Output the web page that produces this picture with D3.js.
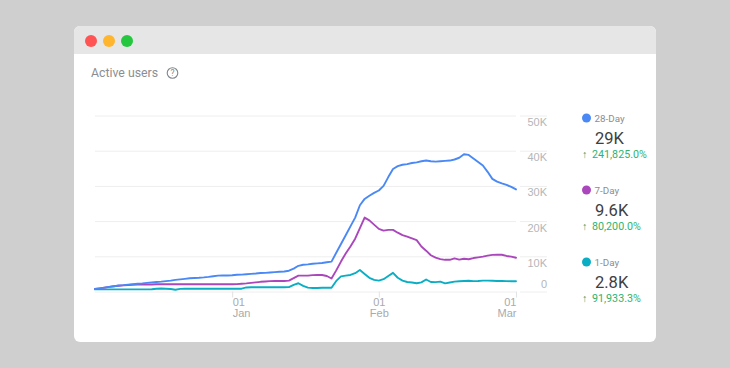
<!DOCTYPE html>
<html>
<head>
<meta charset="utf-8">
<script src="https://d3js.org/d3.v7.min.js"></script>
<style>
  html, body { margin: 0; padding: 0; background: #cfcfcf; }
  svg { display: block; font-family: Roboto, sans-serif; }
  .grid line { stroke: #eeeeee; }
  .grid path, .x.axis path { display: none; }
  .y.axis path, .y.axis line { display: none; }
  .y.axis text { fill: #b4b6b9; font-size: 11px; }
  .x.axis line { stroke: #e2e3e4; }
  .x.axis text { fill: #a8aaad; font-size: 11px; }
  .line { fill: none; stroke-width: 1.9; stroke-linejoin: round; stroke-linecap: round; }
</style>
</head>
<body>
<div id="chart"></div>
<script>
// one value per day, 3 Dec to 1 Mar
var startDate = new Date(Date.UTC(2019, 11, 3));
var endDate = new Date(Date.UTC(2020, 2, 1));

var day28 = [
  700, 900, 1100, 1300, 1500, 1700, 1800, 1950, 2100, 2200,
  2300, 2450, 2600, 2700, 2800, 2950, 3100, 3300, 3450, 3600,
  3750, 3850, 3900, 4000, 4150, 4350, 4500, 4550, 4550, 4600,
  4750, 4800, 4900, 5000, 5100, 5250, 5300, 5400, 5500, 5600,
  5700, 5900, 6500, 7300, 7600, 7700, 7900, 8000, 8100, 8300,
  8500, 11000, 13500, 16000, 18500, 21000, 24500, 26300, 27200, 28000,
  28700, 30000, 32500, 34800, 35600, 36000, 36200, 36500, 36700, 37000,
  37200, 37000, 36900, 37000, 37100, 37200, 37500, 38000, 39000, 38800,
  37800, 36800, 35800, 34000, 32000, 31200, 30700, 30300, 29700, 29000
];
var day7 = [
  700, 900, 1100, 1300, 1500, 1650, 1750, 1850, 1900, 1950,
  2000, 2000, 2000, 2050, 2050, 2050, 2050, 2050, 2050, 2050,
  2050, 2050, 2050, 2050, 2050, 2050, 2050, 2050, 2050, 2050,
  2100, 2200, 2300, 2450, 2600, 2750, 2850, 2950, 3000, 3000,
  3000, 3100, 3800, 4500, 4500, 4500, 4650, 4700, 4700, 4400,
  3700, 6000, 8500, 10800, 12800, 15000, 18000, 21000, 20200, 19000,
  17800, 17300, 17500, 17500, 16700, 16000, 15600, 15100, 14600, 12800,
  11600, 10300, 9600, 9200, 9000, 9000, 9400, 9050, 9300, 9150,
  9500, 9700, 9900, 10200, 10400, 10450, 10450, 10100, 9900, 9600
];
var day1 = [
  600, 600, 600, 600, 600, 600, 600, 600, 600, 600,
  600, 600, 650, 800, 850, 800, 700, 500, 750, 800,
  800, 800, 800, 800, 800, 800, 800, 800, 800, 800,
  800, 800, 1150, 1200, 1200, 1200, 1200, 1200, 1200, 1200,
  1200, 1250, 1900, 2350, 1600, 1100, 1000, 1000, 1050, 1050,
  1050, 3000, 4300, 4500, 4700, 5200, 6100, 5000, 3900, 3300,
  3100, 3500, 4400, 5300, 3900, 3100, 2700, 2550, 2350, 2600,
  3400, 2700, 2650, 2800, 2300, 2550, 2800, 2900, 3000, 3050,
  2950, 3000, 3100, 3100, 3050, 3000, 3000, 2950, 2900, 2900
];

var seriesNames = ["28-Day", "7-Day", "1-Day"];
var seriesTotals = ["29K", "9.6K", "2.8K"];
var seriesChanges = ["241,825.0%", "80,200.0%", "91,933.3%"];
var seriesColors = ["#4a89f5", "#ab47bc", "#0aaec4"];

var yTicks = [0, 10000, 20000, 30000, 40000, 50000];
var xTicks = [new Date(Date.UTC(2020, 0, 1)), new Date(Date.UTC(2020, 1, 1)), new Date(Date.UTC(2020, 2, 1))];
var monthNames = ["Jan", "Feb", "Mar"];

var width = 730;
var height = 368;

var svg = d3.select("#chart").append("svg")
  .attr("width", width)
  .attr("height", height);

// window
svg.append("rect")
  .attr("x", 74).attr("y", 26)
  .attr("width", 582).attr("height", 316)
  .attr("rx", 6)
  .attr("fill", "#fff");

svg.append("path")
  .attr("d", "M74,54V32a6,6 0 0 1 6,-6H650a6,6 0 0 1 6,6V54Z")
  .attr("fill", "#e6e6e6");

svg.selectAll(".btn")
  .data([["#ff5453", 91], ["#ffb52e", 109], ["#25c73f", 127]])
  .enter().append("circle")
  .attr("class", "btn")
  .attr("cx", d => d[1])
  .attr("cy", 41)
  .attr("r", 6)
  .attr("fill", d => d[0]);

// title
svg.append("text")
  .attr("x", 91).attr("y", 77)
  .attr("fill", "#8a8e92")
  .style("font-size", "12.3px")
  .text("Active users");

var help = svg.append("g").attr("transform", "translate(172.5,73)");
help.append("circle").attr("r", 5.3).attr("fill", "none").attr("stroke", "#80868b").attr("stroke-width", 1.1);
help.append("text")
  .attr("text-anchor", "middle").attr("y", 3)
  .attr("fill", "#80868b")
  .style("font-size", "8.5px")
  .text("?");

// scales
var xScale = d3.scaleUtc().domain([startDate, endDate]).range([95, 516]);
var yScale = d3.scaleLinear().domain([0, 50000]).range([291.5, 115.5]);

var dates = d3.utcDay.range(startDate, d3.utcDay.offset(endDate, 1));

// grid, broken in two by the gap before the value labels
[[95, 516], [520, 547]].forEach(function(span) {
  svg.append("g")
    .attr("class", "grid")
    .attr("transform", "translate(" + span[1] + ",0)")
    .call(d3.axisLeft(yScale).tickValues(yTicks).tickSize(span[1] - span[0]).tickFormat(""));
});

// y labels sit under their lines, the zero one above
var yAxis = svg.append("g")
  .attr("class", "y axis")
  .attr("transform", "translate(547,0)")
  .call(d3.axisLeft(yScale).tickValues(yTicks).tickSize(0).tickPadding(0)
    .tickFormat(d => d === 0 ? "0" : d / 1000 + "K"));

yAxis.selectAll("text")
  .attr("dy", d => d === 0 ? "-0.4em" : "0.9em");

// x axis
var xAxis = svg.append("g")
  .attr("class", "x axis")
  .attr("transform", "translate(0,291.5)")
  .call(d3.axisBottom(xScale).tickValues(xTicks).tickSize(6).tickFormat(""));

xAxis.selectAll(".tick text").remove();

var anchors = ["start", "middle", "end"];
xAxis.selectAll(".tick").each(function(d, i) {
  var label = d3.select(this).append("text")
    .attr("text-anchor", anchors[i]);
  label.append("tspan").attr("x", 0).attr("y", 14).text("01");
  label.append("tspan").attr("x", 0).attr("y", 25).text(monthNames[i]);
});

// lines
var line = d3.line()
  .x((d, i) => xScale(dates[i]))
  .y(d => yScale(d));

svg.selectAll(".line")
  .data([day1, day7, day28])
  .enter().append("path")
  .attr("class", "line")
  .attr("stroke", (d, i) => seriesColors[2 - i])
  .attr("d", line);

// legend
var legendY = d3.scalePoint().domain(seriesNames).range([118, 262]);

var legend = svg.selectAll(".legend")
  .data(seriesNames)
  .enter().append("g")
  .attr("class", "legend")
  .attr("transform", d => "translate(0," + legendY(d) + ")");

legend.append("circle")
  .attr("cx", 586.5).attr("cy", 0).attr("r", 4.5)
  .attr("fill", (d, i) => seriesColors[i]);

legend.append("text")
  .attr("x", 594.5).attr("y", 3.5)
  .attr("fill", "#8a8d91")
  .style("font-size", "9.8px")
  .text(d => d);

legend.append("text")
  .attr("x", 595).attr("y", 26)
  .attr("fill", "#3c4043")
  .style("font-size", "16.5px")
  .text((d, i) => seriesTotals[i]);

var change = legend.append("text")
  .attr("y", 40)
  .style("font-size", "10.7px");

change.append("tspan")
  .attr("x", 582)
  .attr("fill", "#1f9d5c")
  .style("font-weight", "bold")
  .text("\u2191");

change.append("tspan")
  .attr("x", 592)
  .attr("fill", "#2fb36b")
  .text((d, i) => seriesChanges[i]);
</script>
</body>
</html>
